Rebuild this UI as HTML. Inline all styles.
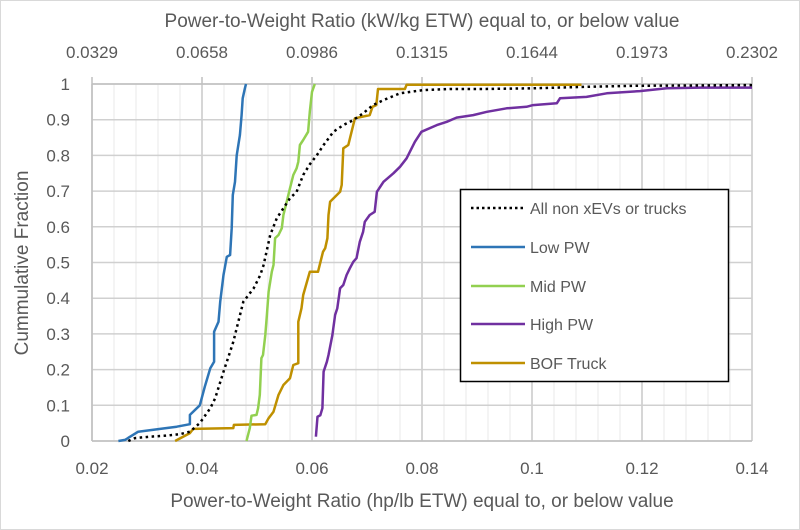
<!DOCTYPE html>
<html><head><meta charset="utf-8"><style>
body{margin:0;background:#fff}
svg{display:block;font-family:"Liberation Sans",sans-serif}
</style></head><body>
<svg id="chart" width="800" height="530" viewBox="0 0 800 530">
<rect x="0.5" y="0.5" width="799" height="529" fill="#fff" stroke="#d9d9d9"/>
<g id="grid"></g>
<g id="axes"></g>
<g id="series"></g>
<text x="422" y="27" text-anchor="middle" font-size="19" fill="#595959">Power-to-Weight Ratio (kW/kg ETW) equal to, or below value</text>
<text x="422" y="507" text-anchor="middle" font-size="19" fill="#595959">Power-to-Weight Ratio (hp/lb ETW) equal to, or below value</text>
<text transform="translate(28,263) rotate(-90)" text-anchor="middle" font-size="19" fill="#595959">Cummulative Fraction</text>
<g>
<rect x="460.5" y="189.5" width="268" height="192" fill="#fff" stroke="#000" stroke-width="1.5"/>
<line x1="471" y1="208" x2="525" y2="208" stroke="#000" stroke-width="2.5" stroke-dasharray="2.5,3"/>
<text x="530" y="214" font-size="16" fill="#595959">All non xEVs or trucks</text>
<line x1="471" y1="247" x2="525" y2="247" stroke="#2E75B6" stroke-width="2.5"/>
<text x="530" y="253" font-size="16" fill="#595959">Low PW</text>
<line x1="471" y1="286" x2="525" y2="286" stroke="#92D050" stroke-width="2.5"/>
<text x="530" y="292" font-size="16" fill="#595959">Mid PW</text>
<line x1="471" y1="324" x2="525" y2="324" stroke="#7030A0" stroke-width="2.5"/>
<text x="530" y="330" font-size="16" fill="#595959">High PW</text>
<line x1="471" y1="363" x2="525" y2="363" stroke="#BF9000" stroke-width="2.5"/>
<text x="530" y="369" font-size="16" fill="#595959">BOF Truck</text>
</g>
</svg>
<script>
const xTicks=[0.02,0.04,0.06,0.08,0.1,0.12,0.14];
const xTickLabels=["0.02","0.04","0.06","0.08","0.1","0.12","0.14"];
const topTickLabels=["0.0329","0.0658","0.0986","0.1315","0.1644","0.1973","0.2302"];
const yTicks=[0,0.1,0.2,0.3,0.4,0.5,0.6,0.7,0.8,0.9,1];
const yTickLabels=["0","0.1","0.2","0.3","0.4","0.5","0.6","0.7","0.8","0.9","1"];
const allX=[0.0266,0.0278,0.0305,0.0336,0.0360,0.0378,0.0396,0.0415,0.0424,0.0439,0.0451,0.0457,0.0463,0.0475,0.0494,0.0506,0.0512,0.0524,0.0536,0.0548,0.0560,0.0572,0.0584,0.0596,0.0609,0.0621,0.0639,0.0657,0.0675,0.0693,0.0711,0.0730,0.0760,0.0802,0.0851,0.0911,0.1002,0.1093,0.1184,0.14];
const allY=[0,0.008,0.012,0.015,0.019,0.026,0.050,0.092,0.120,0.194,0.250,0.278,0.316,0.390,0.428,0.465,0.493,0.577,0.624,0.652,0.680,0.698,0.745,0.775,0.801,0.829,0.866,0.885,0.899,0.918,0.941,0.955,0.974,0.983,0.986,0.986,0.988,0.992,0.995,0.997];
const lowX=[0.0248,0.0260,0.0284,0.0324,0.0354,0.0378,0.0378,0.0396,0.0405,0.0415,0.0422,0.0422,0.0430,0.0433,0.0439,0.0445,0.0451,0.0454,0.0456,0.0460,0.0463,0.0469,0.0472,0.0474,0.0478,0.0480];
const lowY=[0,0.003,0.026,0.034,0.040,0.047,0.073,0.10,0.152,0.204,0.222,0.306,0.334,0.39,0.465,0.516,0.521,0.596,0.689,0.726,0.80,0.857,0.913,0.96,0.988,1.0];
const midX=[0.0481,0.0487,0.0490,0.0499,0.0502,0.0505,0.0508,0.0511,0.0515,0.0518,0.0521,0.0524,0.0527,0.0530,0.0533,0.0539,0.0545,0.0548,0.0554,0.0560,0.0566,0.0572,0.0575,0.0578,0.0584,0.0593,0.0596,0.0600,0.0605];
const midY=[0,0.036,0.071,0.073,0.092,0.129,0.232,0.241,0.297,0.353,0.418,0.446,0.474,0.493,0.568,0.577,0.596,0.633,0.670,0.708,0.745,0.764,0.782,0.829,0.843,0.866,0.922,0.978,1.0];
const highX=[0.0607,0.0610,0.0615,0.0619,0.0621,0.0627,0.0630,0.0637,0.0642,0.0646,0.0651,0.0657,0.0663,0.0669,0.0675,0.0681,0.0687,0.0693,0.0696,0.0705,0.0714,0.0718,0.0730,0.0748,0.0760,0.0772,0.0787,0.0799,0.0827,0.0845,0.0863,0.0893,0.0918,0.0954,0.0990,0.1002,0.1045,0.1051,0.1099,0.1136,0.1196,0.1245,0.1305,0.14];
const highY=[0.012,0.068,0.072,0.092,0.194,0.222,0.241,0.297,0.353,0.372,0.428,0.437,0.465,0.484,0.502,0.512,0.558,0.586,0.614,0.633,0.642,0.698,0.726,0.750,0.768,0.792,0.838,0.866,0.885,0.894,0.906,0.913,0.922,0.932,0.936,0.941,0.946,0.960,0.964,0.974,0.980,0.988,0.990,0.990];
const bofX=[0.0351,0.0378,0.0384,0.0457,0.0458,0.0515,0.0521,0.0530,0.0539,0.0548,0.0560,0.0566,0.0575,0.0575,0.0581,0.0584,0.0596,0.0611,0.0620,0.0624,0.0628,0.0630,0.0633,0.0651,0.0654,0.0657,0.0666,0.0678,0.0705,0.0710,0.0717,0.0720,0.0769,0.0772,0.1090];
const bofY=[0,0.022,0.034,0.036,0.045,0.047,0.064,0.082,0.129,0.157,0.176,0.213,0.218,0.334,0.372,0.409,0.474,0.474,0.530,0.540,0.568,0.633,0.670,0.698,0.717,0.820,0.829,0.904,0.913,0.936,0.941,0.986,0.986,0.998,0.998];

const L=92,R=752,T=84,B=441;
const xs=v=>L+(v-0.02)/0.12*(R-L);
const ys=v=>B-v*(B-T);
const NS="http://www.w3.org/2000/svg";
function mk(tag,attrs,parent){const e=document.createElementNS(NS,tag);for(const k in attrs)e.setAttribute(k,attrs[k]);parent.appendChild(e);return e;}
const grid=document.getElementById('grid'),axes=document.getElementById('axes'),series=document.getElementById('series');
for(let i=0;i<=30;i++){const v=0.02+i*0.004;const x=xs(v);
 const ln=mk('line',{x1:x,x2:x,y1:T,y2:B,stroke:i%5===0?'#c8c8c8':'#e8e8e8','stroke-width':i%5===0?1.5:1},grid);
 
 }
yTicks.forEach((v,i)=>{const y=ys(v);
 const ln=mk('line',{x1:L,x2:R,y1:y,y2:y,stroke:'#d0d0d0','stroke-width':1.5},grid);
 
 
 const t=mk('text',{x:70,y:y+6,'text-anchor':'end','font-size':17,fill:'#595959'},axes);t.textContent=yTickLabels[i];
 
 });
xTicks.forEach((v,i)=>{const x=xs(v);
 const t=mk('text',{x:x,y:474,'text-anchor':'middle','font-size':17,fill:'#595959'},axes);t.textContent=xTickLabels[i];
 
 
 const t2=mk('text',{x:x,y:58,'text-anchor':'middle','font-size':17,fill:'#595959'},axes);t2.textContent=topTickLabels[i];
 
 
 const tk=mk('line',{x1:x,x2:x,y1:T-7,y2:T,stroke:'#bfbfbf','stroke-width':1.5},axes);
 
 });
[[L,T,R,T],[L,B,R,B],[L,T,L,B]].forEach(a=>{const ln=mk('line',{x1:a[0],y1:a[1],x2:a[2],y2:a[3],stroke:'#bfbfbf','stroke-width':1.5},axes);
 
 });
function draw(X,Y,color,dash,name){const pts=X.map((v,i)=>xs(v).toFixed(1)+','+ys(Y[i]).toFixed(1)).join(' ');
 const p=mk('polyline',{points:pts,fill:'none',stroke:color,'stroke-width':dash?2.5:2.5,'stroke-linejoin':'round'},series);
 if(dash)p.setAttribute('stroke-dasharray',dash);
 
 }
draw(bofX,bofY,'#BF9000',null,'series-bof-truck');
draw(highX,highY,'#7030A0',null,'series-high-pw');
draw(midX,midY,'#92D050',null,'series-mid-pw');
draw(lowX,lowY,'#2E75B6',null,'series-low-pw');
draw(allX,allY,'#000',"2.5,3.5",'series-all-non-xev');
</script>
</body></html>
